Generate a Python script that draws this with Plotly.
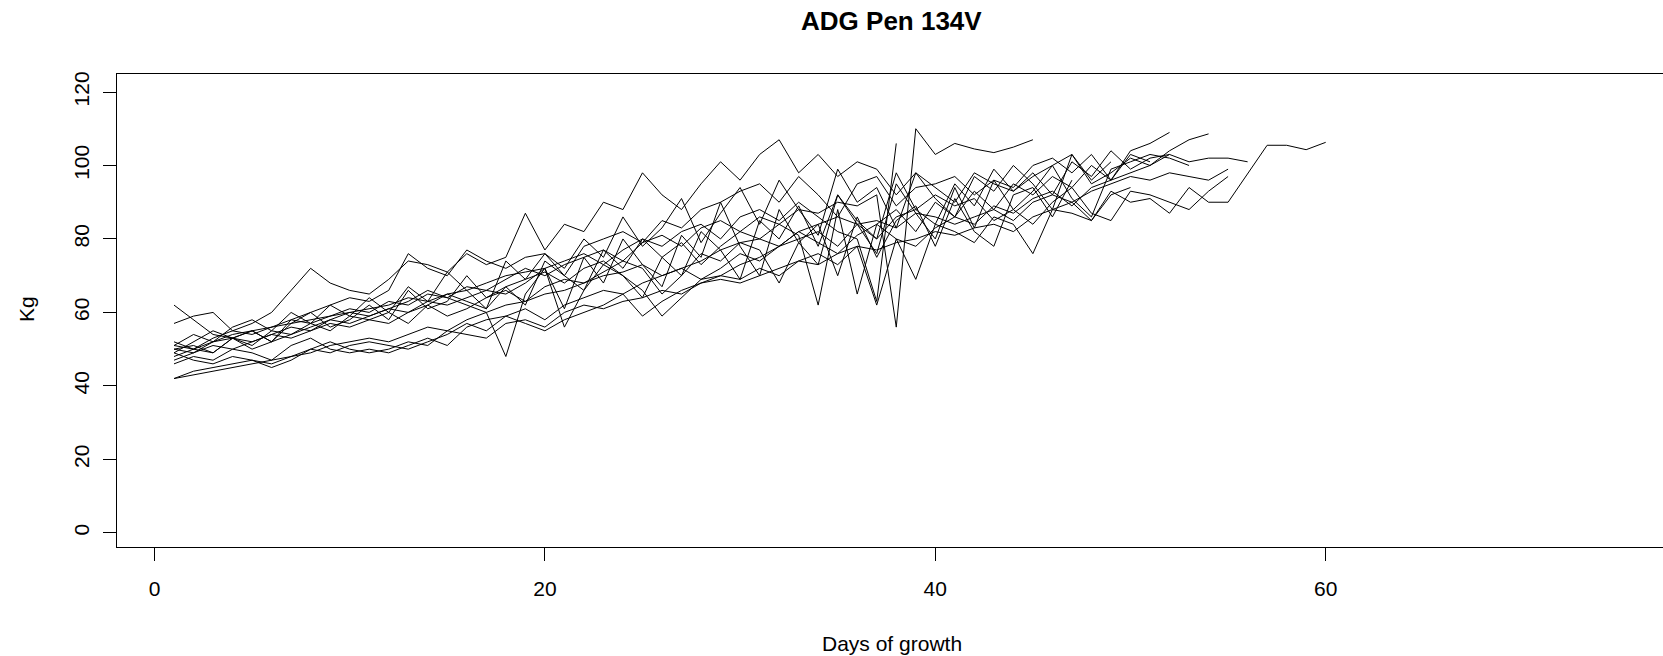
import plotly.graph_objects as go

# Days of growth (x) and weights in Kg (y) for each animal in pen 134V
kg_01 = [50, 49, 52, 54, 55, 56, 57, 58, 59, 60, 61, 62, 64, 63, 65, 66, 68, 70, 71, 72,
         74, 76, 73, 77, 80, 78, 82, 84, 80, 86, 88, 85, 90, 86, 82, 80, 63, 106]
kg_02 = [51, 50, 53, 55, 54, 56, 58, 57, 59, 61, 60, 63, 62, 65, 64, 67, 66, 69, 72, 70,
         73, 75, 77, 74, 79, 81, 78, 83, 85, 82, 86, 84, 88, 87, 90, 89, 92, 56, 110, 103,
         106, 104.5, 103.5, 105, 107]
kg_03 = [62, 58, 54, 53, 55, 52, 58, 60, 62, 64, 63, 66, 76, 72, 70, 77, 74, 72, 75, 76,
         70, 78, 80, 82, 79, 85, 83, 88, 90, 93, 95, 90, 97, 92, 86, 95, 97, 89, 94, 95,
         97, 92, 96, 94, 100, 102, 98, 103, 96, 104, 106, 109]
kg_04 = [57, 59, 60, 55, 57, 60, 66, 72, 68, 66, 65, 69, 74, 73, 71, 76, 73, 75, 87, 77,
         84, 82, 90, 88, 98, 92, 88, 95, 101, 96, 103, 107, 98, 103, 97, 101, 99, 92, 98, 94,
         90, 98, 95, 93, 97, 100, 103, 95, 98, 102, 100, 104, 107, 108.6]
kg_05 = [52, 50, 49, 53, 55, 52, 57, 60, 56, 58, 62, 58, 66, 61, 63, 70, 64, 67, 62, 74,
         70, 66, 77, 72, 80, 75, 70, 82, 77, 69, 85, 80, 89, 78, 92, 85, 80, 98, 88, 84,
         95, 89, 99, 93, 98, 92, 101, 97, 104, 99, 102, 103, 101, 102, 102, 101]
kg_06 = [42, 43, 44, 45, 46, 47, 48, 49, 51, 52, 53, 52, 54, 56, 55, 58, 60, 62, 63, 65,
         66, 68, 70, 71, 73, 70, 72, 74, 77, 79, 80, 78, 82, 84, 86, 84, 85, 83, 87, 86,
         84, 86, 88, 85, 90, 92, 90, 93, 95, 97, 96, 98, 97, 96, 99]
kg_07 = [42, 44, 45, 46, 47, 46, 48, 50, 49, 51, 52, 51, 50, 52, 54, 57, 55, 59, 61, 58,
         62, 64, 66, 65, 68, 70, 72, 69, 70, 73, 75, 78, 80, 82, 78, 84, 80, 86, 88, 92,
         89, 91, 85, 88, 84, 90, 94, 87, 85, 93, 92, 90, 88, 93, 97]
kg_08 = [49, 47, 46, 48, 47, 45, 47, 50, 52, 50, 49, 50, 52, 51, 55, 54, 53, 57, 58, 56,
         60, 62, 61, 63, 64, 66, 65, 68, 69, 68, 70, 72, 74, 73, 76, 78, 77, 79, 80, 82,
         81, 83, 84, 82, 86, 88, 87, 85, 93, 90, 91, 87, 94, 90, 90, None, 105.5, 105.5, 104.3, 106.3]
kg_09 = [50, 51, 49, 53, 52, 54, 56, 55, 58, 57, 59, 61, 60, 63, 62, 64, 66, 65, 68, 72,
         61, 75, 68, 80, 73, 67, 81, 75, 90, 78, 70, 88, 79, 73, 92, 84, 76, 95, 87, 80,
         94, 83, 96, 88, 93, 100, 91, 86, 99, 101, 103, 102, 100]
kg_10 = [48, 50, 52, 53, 51, 55, 54, 56, 58, 60, 59, 61, 63, 66, 64, 62, 60, 48, 65, 72,
         56, 66, 73, 70, 64, 75, 79, 73, 78, 82, 80, 84, 81, 62, 88, 65, 84, 88, 82, 90,
         86, 93, 88, 95, 92, 97, 94, 100, 96, 103, 101]
kg_11 = [46, 48, 47, 50, 49, 47, 51, 53, 50, 49, 50, 49, 51, 53, 51, 56, 58, 59, 57, 55,
         58, 60, 62, 65, 59, 63, 66, 68, 70, 69, 72, 70, 74, 76, 73, 78, 62, 80, 69, 84,
         82, 79, 86, 84, 76, 88, 90, 85, 92, 94]
kg_12 = [51, 54, 52, 56, 58, 55, 60, 57, 62, 59, 64, 60, 67, 63, 71, 66, 61, 74, 69, 76,
         72, 80, 75, 86, 78, 83, 91, 79, 87, 94, 84, 96, 88, 81, 99, 90, 94, 83, 98, 91,
         86, 97, 93, 100, 95, 88, 103, 96, 101]
kg_13 = [47, 49, 51, 50, 52, 54, 53, 55, 57, 56, 58, 57, 60, 62, 59, 61, 64, 66, 63, 67,
         69, 68, 71, 74, 72, 65, 70, 76, 74, 79, 77, 68, 79, 84, 70, 86, 75, 85, 89, 78,
         91, 82, 78, 92, 94, 86, 96]
kg_14 = [49, 52, 55, 53, 50, 52, 54, 57, 55, 59, 58, 60, 57, 62, 65, 63, 61, 67, 69, 71,
         68, 72, 74, 70, 66, 59, 64, 69, 72, 76, 74, 78, 82, 79, 76, 81, 84, 80, 78, 83,
         86, 84, 89, 87, 91, 93, 89, 94, 96, 98, 100, 103]

animals = [kg_01, kg_02, kg_03, kg_04, kg_05, kg_06, kg_07,
           kg_08, kg_09, kg_10, kg_11, kg_12, kg_13, kg_14]

x_ticks = [0, 20, 40, 60]
y_ticks = [0, 20, 40, 60, 80, 100, 120]

FONT = "Liberation Sans, Arial, sans-serif"

fig = go.Figure()
for kg in animals:
    days = list(range(1, len(kg) + 1))
    fig.add_trace(go.Scatter(x=days, y=kg, mode="lines", connectgaps=True,
                             line=dict(color="black", width=1), showlegend=False,
                             hoverinfo="skip"))

fig.update_layout(
    width=1663, height=656,
    margin=dict(l=117, r=0, t=74, b=109),
    paper_bgcolor="white", plot_bgcolor="white",
    font=dict(family=FONT, size=21, color="black"),
    title=dict(text="<b>ADG Pen 134V</b>", x=0.536, xanchor="center",
               y=1 - 21 / 656, yref="container", yanchor="middle",
               font=dict(family=FONT, size=26, color="black")),
    xaxis=dict(range=[-1.92, 77.28], tickvals=x_ticks, ticks="outside", ticklen=13,
               tickcolor="black", tickwidth=1, showgrid=False, zeroline=False,
               showline=True, linecolor="black", linewidth=1, mirror=True,
               ticklabelstandoff=10, tickfont=dict(size=21, color="black")),
    yaxis=dict(range=[-3.85, 124.9], tickvals=y_ticks, ticks="outside", ticklen=13,
               tickcolor="black", tickwidth=1, showgrid=False, zeroline=False,
               showline=True, linecolor="black", linewidth=1, mirror=False,
               tickangle=-90, ticklabelstandoff=6, tickfont=dict(size=21, color="black")),
    annotations=[
        dict(text="Kg", xref="paper", yref="paper", x=(26 - 117) / 1546, y=(547 - 309) / 473,
             showarrow=False, textangle=-90, xanchor="center", yanchor="middle",
             font=dict(family=FONT, size=21, color="black")),
        dict(text="Days of growth", xref="paper", yref="paper", x=(892 - 117) / 1546,
             y=(547 - 643) / 473, showarrow=False, xanchor="center", yanchor="middle",
             font=dict(family=FONT, size=21, color="black")),
    ],
)

fig.write_html("out.html")
